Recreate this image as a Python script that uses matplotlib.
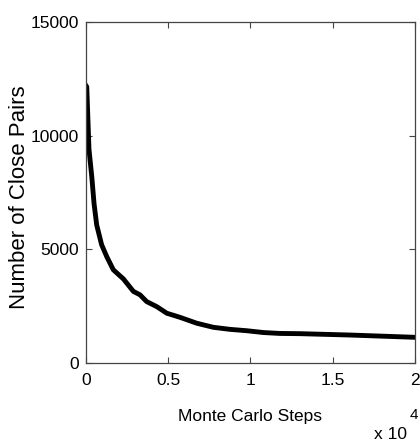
import matplotlib
matplotlib.use('Agg')
import matplotlib.pyplot as plt
from matplotlib.ticker import FuncFormatter

# Close pairs vs Monte Carlo steps
steps = [0, 45, 180, 350, 490, 650, 950, 1260, 1660, 2270, 2880, 3280, 3690,
         4300, 4910, 5710, 6730, 7740, 8750, 9770, 10780, 11790, 13010,
         16050, 20000]
close_pairs = [12200, 12150, 9400, 8200, 7000, 6070, 5200, 4680, 4100, 3700,
               3150, 3000, 2700, 2480, 2190, 2010, 1750, 1570, 1480, 1420,
               1340, 1300, 1290, 1230, 1130]
x_ticks = [0, 5000, 10000, 15000, 20000]
y_ticks = [0, 5000, 10000, 15000]

plt.rcParams['font.family'] = ['Liberation Sans', 'DejaVu Sans']

fig = plt.figure(figsize=(4.2, 4.43), dpi=100)
ax = fig.add_axes([0.2048, 0.1806, 0.7832, 0.7697])

ax.plot(steps, close_pairs, color='black', linewidth=3.5, solid_joinstyle='round')

ax.set_xlim(0, 20000)
ax.set_ylim(0, 15000)
ax.set_xticks(x_ticks)
ax.set_yticks(y_ticks)
ax.xaxis.set_major_formatter(FuncFormatter(lambda v, p: f'{v / 1e4:g}'))

ax.tick_params(direction='in', top=True, right=True, length=4, width=0.8,
               color='#444444', labelsize=12.5)
ax.tick_params(axis='y', pad=5)
ax.tick_params(axis='x', pad=7)
for sp in ax.spines.values():
    sp.set_color('#444444')
    sp.set_linewidth(0.9)

ax.set_xlabel('Monte Carlo Steps', fontsize=12.5)
ax.xaxis.set_label_coords(0.5, -0.135)
ax.set_ylabel('Number of Close Pairs', fontsize=16)
ax.yaxis.set_label_coords(-0.17, 0.485)

# MATLAB-style exponent under the x axis
fig.text(407 / 420, 1 - 442 / 443, 'x 10', fontsize=12.5, ha='right', va='bottom')
fig.text(410 / 420, 1 - 422 / 443, '4', fontsize=11, ha='left', va='bottom')

fig.savefig('out.png', dpi=100)
